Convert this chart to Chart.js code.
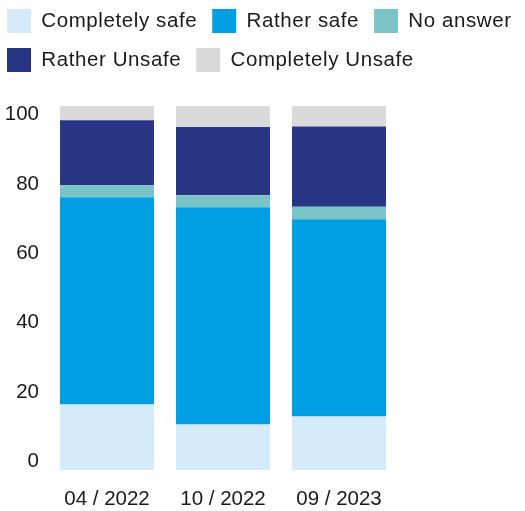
<!DOCTYPE html>
<html>
<head>
<meta charset="utf-8">
<title>Perceived safety</title>
<script src="https://cdn.jsdelivr.net/npm/chart.js@4.4.1/dist/chart.umd.min.js"></script>
<style>
  html, body { margin: 0; padding: 0; background: #fff; }
  #wrap { width: 525px; height: 511px; }
</style>
</head>
<body>
<div id="wrap"><canvas id="safetyChart"></canvas></div>
<script>
// survey waves
const periods = ['04 / 2022', '10 / 2022', '09 / 2023'];

// answer shares in percent, stacked bottom to top
const completelySafe = [18.0, 12.5, 14.7];
const ratherSafe = [56.9, 59.7, 54.2];
const noAnswer = [3.3, 3.3, 3.4];
const ratherUnsafe = [17.9, 18.7, 22.1];
const completelyUnsafe = [3.9, 5.8, 5.6];

const answerLabels = ['Completely safe', 'Rather safe', 'No answer', 'Rather Unsafe', 'Completely Unsafe'];
const answerColors = ['#d5ebfa', '#009fe3', '#7ac4c8', '#283583', '#dadada'];

const yTicks = [0, 20, 40, 60, 80, 100];

const FONT = "'Liberation Sans', Arial, sans-serif";
const TEXT = '#1a1a1a';

// legend text is set a little wider, and the plot starts below the two rows
const legendTweaks = {
    id: 'legendTweaks',
    beforeInit(chart) {
        const legend = chart.legend;
        const fit = legend.fit;
        const draw = legend.draw;
        legend.fit = function () {
            this.ctx.letterSpacing = '0.6px';
            fit.call(this);
            this.ctx.letterSpacing = '0px';
            this.height += 24;
        };
        legend.draw = function () {
            this.ctx.letterSpacing = '0.6px';
            draw.call(this);
            this.ctx.letterSpacing = '0px';
        };
    }
};

const series = [completelySafe, ratherSafe, noAnswer, ratherUnsafe, completelyUnsafe];

new Chart(document.getElementById('safetyChart'), {
    type: 'bar',
    data: {
        labels: periods,
        datasets: series.map((values, i) => ({
            label: answerLabels[i],
            data: values,
            backgroundColor: answerColors[i],
            borderWidth: 0,
            yAxisID: 'share',
            barPercentage: 0.81,
            categoryPercentage: 1
        }))
    },
    options: {
        responsive: true,
        maintainAspectRatio: false,
        animation: false,
        layout: { padding: { left: -8, top: -6, right: -14, bottom: 0 } },
        plugins: {
            legend: {
                position: 'top',
                align: 'start',
                labels: {
                    boxWidth: 24,
                    boxHeight: 24,
                    padding: 15,
                    color: TEXT,
                    font: { family: FONT, size: 20.5 }
                }
            },
            tooltip: { enabled: false }
        },
        scales: {
            x: {
                stacked: true,
                grid: { display: false, drawTicks: false },
                border: { display: false },
                ticks: { padding: 17, color: TEXT, font: { family: FONT, size: 20.5 } },
                afterFit: s => { s.height = 41; }
            },
            y: {
                position: 'left',
                min: -2.45,
                max: 102.45,
                grid: { display: false, drawTicks: false },
                border: { display: false },
                ticks: { padding: 10, color: TEXT, font: { family: FONT, size: 20.5 } },
                afterBuildTicks: s => { s.ticks = yTicks.map(v => ({ value: v })); },
                afterFit: s => { s.width = 57; }
            },
            share: {
                position: 'right',
                stacked: true,
                min: 0,
                max: 100,
                grid: { display: false, drawTicks: false },
                border: { display: false },
                ticks: { display: false },
                afterFit: s => { s.width = 142; }
            }
        }
    },
    plugins: [legendTweaks]
});
</script>
</body>
</html>
